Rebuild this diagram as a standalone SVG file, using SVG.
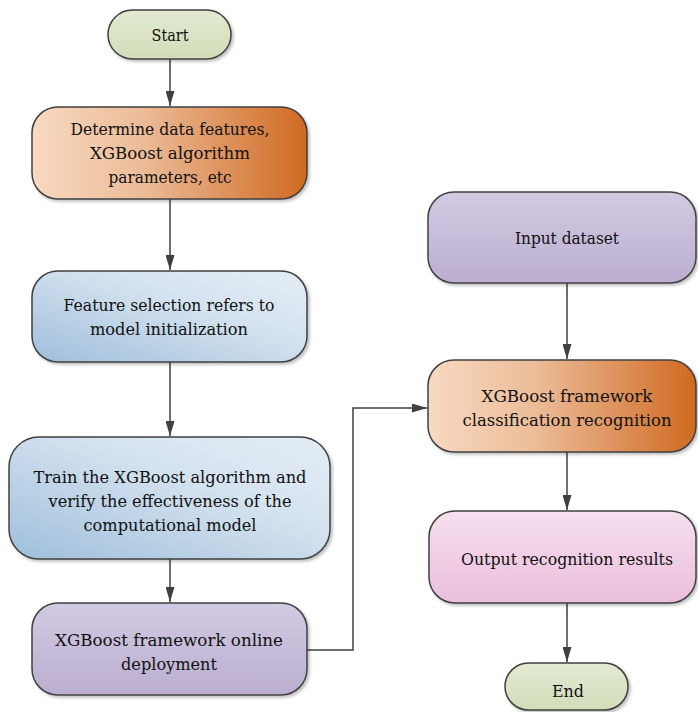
<svg xmlns="http://www.w3.org/2000/svg" width="698" height="712" viewBox="0 0 698 712">
<defs>
<linearGradient id="gOrange" x1="0" y1="0" x2="1" y2="0">
<stop offset="0" stop-color="#f8d9c2"/><stop offset="0.4" stop-color="#ecbc98"/><stop offset="1" stop-color="#d06a22"/>
</linearGradient>
<linearGradient id="gBlue" x1="0" y1="1" x2="1" y2="0">
<stop offset="0" stop-color="#9fbedb"/><stop offset="0.6" stop-color="#d4e2ef"/><stop offset="1" stop-color="#e4edf5"/>
</linearGradient>
<linearGradient id="gPurple" x1="0" y1="0" x2="0" y2="1">
<stop offset="0" stop-color="#d2cae2"/><stop offset="1" stop-color="#bbaed0"/>
</linearGradient>
<linearGradient id="gPink" x1="0" y1="0" x2="0" y2="1">
<stop offset="0" stop-color="#f6e0ee"/><stop offset="1" stop-color="#ebbedb"/>
</linearGradient>
<linearGradient id="gGreen" x1="0" y1="0" x2="0" y2="1">
<stop offset="0" stop-color="#e3ead2"/><stop offset="1" stop-color="#d2ddb9"/>
</linearGradient>
<filter id="sh" x="-10%" y="-10%" width="125%" height="130%">
<feDropShadow dx="2" dy="2" stdDeviation="1.5" flood-color="#000" flood-opacity="0.25"/>
</filter>
<marker id="arr" markerWidth="15" markerHeight="9" refX="15" refY="4.5" viewBox="0 0 15 9" orient="auto" markerUnits="userSpaceOnUse">
<path d="M0,0 L15,4.5 L0,9 Z" fill="#404040"/>
</marker>
</defs>
<style>
.box{stroke:#404040;stroke-width:1.5;filter:url(#sh)}
.t{font-size:17px;fill:#111;text-anchor:middle;font-family:'DejaVu Serif','Liberation Serif',serif}
.c{fill:none;stroke:#404040;stroke-width:1.5}
</style>
<g id="connectors">
<path class="c" d="M170,59 V106" marker-end="url(#arr)"/>
<path class="c" d="M170,199 V270" marker-end="url(#arr)"/>
<path class="c" d="M170,362 V436" marker-end="url(#arr)"/>
<path class="c" d="M170,559 V602" marker-end="url(#arr)"/>
<path class="c" d="M307,650 H353 V408 H427" marker-end="url(#arr)"/>
<path class="c" d="M567,283 V359" marker-end="url(#arr)"/>
<path class="c" d="M567,452 V510" marker-end="url(#arr)"/>
<path class="c" d="M567,603 V662" marker-end="url(#arr)"/>
</g>
<g id="start">
<rect class="box" x="108" y="10" width="123" height="49" rx="24.5" fill="url(#gGreen)"/>
<text class="t" x="170" y="41" textLength="37" lengthAdjust="spacingAndGlyphs">Start</text>
</g>
<g id="determine">
<rect class="box" x="32" y="107" width="275" height="92" rx="26" fill="url(#gOrange)"/>
<text class="t" x="170" y="135" textLength="199" lengthAdjust="spacingAndGlyphs">Determine data features,</text>
<text class="t" x="170" y="159" textLength="160" lengthAdjust="spacingAndGlyphs">XGBoost algorithm</text>
<text class="t" x="170" y="183" textLength="123" lengthAdjust="spacingAndGlyphs">parameters, etc</text>
</g>
<g id="feature">
<rect class="box" x="32" y="271" width="275" height="91" rx="26" fill="url(#gBlue)"/>
<text class="t" x="169" y="311" textLength="211" lengthAdjust="spacingAndGlyphs">Feature selection refers to</text>
<text class="t" x="169" y="335" textLength="158" lengthAdjust="spacingAndGlyphs">model initialization</text>
</g>
<g id="train">
<rect class="box" x="9" y="437" width="321" height="122" rx="30" fill="url(#gBlue)"/>
<text class="t" x="170" y="483" textLength="273" lengthAdjust="spacingAndGlyphs">Train the XGBoost algorithm and</text>
<text class="t" x="170" y="507" textLength="243" lengthAdjust="spacingAndGlyphs">verify the effectiveness of the</text>
<text class="t" x="170" y="531" textLength="173" lengthAdjust="spacingAndGlyphs">computational model</text>
</g>
<g id="deploy">
<rect class="box" x="32" y="603" width="275" height="92" rx="26" fill="url(#gPurple)"/>
<text class="t" x="169" y="646" textLength="228" lengthAdjust="spacingAndGlyphs">XGBoost framework online</text>
<text class="t" x="169" y="670" textLength="96" lengthAdjust="spacingAndGlyphs">deployment</text>
</g>
<g id="input">
<rect class="box" x="428" y="192" width="268" height="91" rx="26" fill="url(#gPurple)"/>
<text class="t" x="567" y="244" textLength="104" lengthAdjust="spacingAndGlyphs">Input dataset</text>
</g>
<g id="classify">
<rect class="box" x="428" y="360" width="268" height="92" rx="26" fill="url(#gOrange)"/>
<text class="t" x="567" y="402" textLength="171" lengthAdjust="spacingAndGlyphs">XGBoost framework</text>
<text class="t" x="567" y="426" textLength="209" lengthAdjust="spacingAndGlyphs">classification recognition</text>
</g>
<g id="output">
<rect class="box" x="429" y="511" width="267" height="92" rx="26" fill="url(#gPink)"/>
<text class="t" x="567" y="565" textLength="212" lengthAdjust="spacingAndGlyphs">Output recognition results</text>
</g>
<g id="end">
<rect class="box" x="505" y="663" width="123" height="47" rx="23.5" fill="url(#gGreen)"/>
<text class="t" x="568" y="697" textLength="32" lengthAdjust="spacingAndGlyphs">End</text>
</g>
</svg>
